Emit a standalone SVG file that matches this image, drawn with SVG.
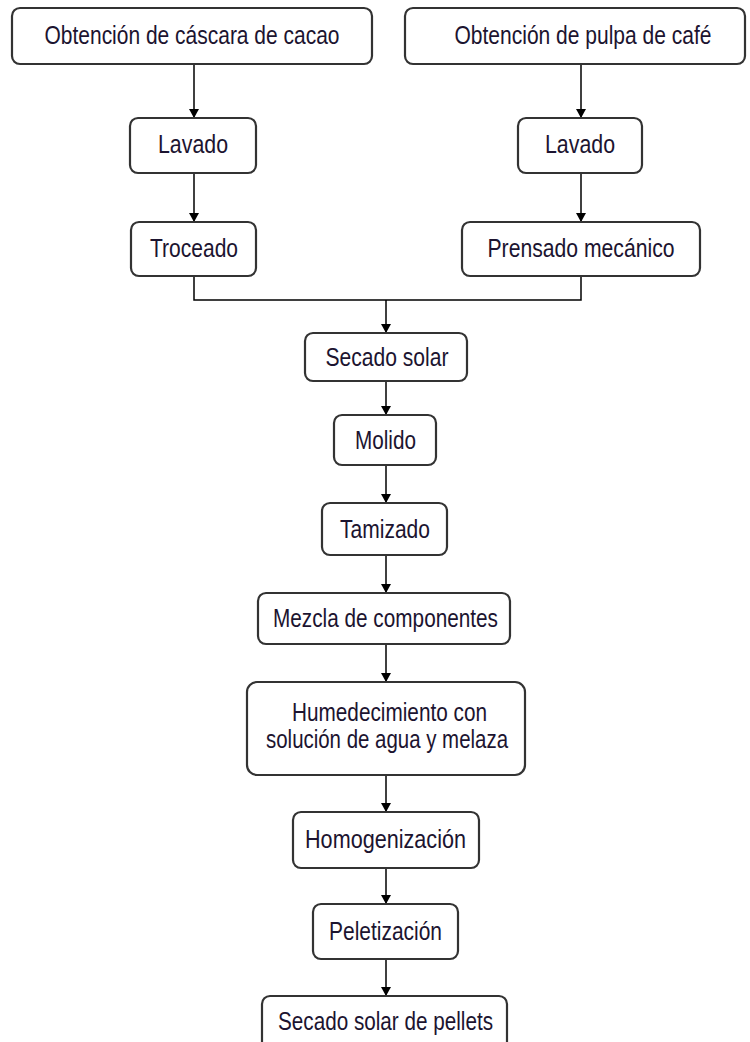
<svg xmlns="http://www.w3.org/2000/svg" width="750" height="1042" viewBox="0 0 750 1042">
<defs>
<style>
.box{fill:#ffffff;stroke:#333333;stroke-width:2.2}
.t{font-family:"Liberation Sans",Arial,sans-serif;font-size:25px;fill:#1c1430;text-anchor:middle}
.c{fill:none;stroke:#000;stroke-width:1.5}
</style>
<marker id="arr" markerUnits="userSpaceOnUse" markerWidth="9" markerHeight="10" refX="9" refY="5" orient="auto" viewBox="0 0 9 10">
<path d="M0,0 L9,5 L0,10 z" fill="#000"/>
</marker>
</defs>
<rect width="750" height="1042" fill="#ffffff"/>
<g id="connectors">
<line class="c" x1="194" y1="64" x2="194" y2="118" marker-end="url(#arr)"/>
<line class="c" x1="581" y1="64" x2="581" y2="118" marker-end="url(#arr)"/>
<line class="c" x1="194" y1="173" x2="194" y2="222" marker-end="url(#arr)"/>
<line class="c" x1="581" y1="173" x2="581" y2="222" marker-end="url(#arr)"/>
<polyline class="c" points="194,276 194,300 581,300 581,276"/>
<line class="c" x1="386" y1="300" x2="386" y2="333" marker-end="url(#arr)"/>
<line class="c" x1="386" y1="381" x2="386" y2="415" marker-end="url(#arr)"/>
<line class="c" x1="386" y1="465" x2="386" y2="503" marker-end="url(#arr)"/>
<line class="c" x1="386" y1="555" x2="386" y2="593" marker-end="url(#arr)"/>
<line class="c" x1="386" y1="644" x2="386" y2="682" marker-end="url(#arr)"/>
<line class="c" x1="386" y1="775" x2="386" y2="812" marker-end="url(#arr)"/>
<line class="c" x1="386" y1="868" x2="386" y2="904" marker-end="url(#arr)"/>
<line class="c" x1="386" y1="959" x2="386" y2="996" marker-end="url(#arr)"/>
</g>
<g id="n_cacao"><rect class="box" x="12" y="8" width="360" height="56" rx="8"/><text class="t" x="192" y="44" textLength="295" lengthAdjust="spacingAndGlyphs">Obtención de cáscara de cacao</text></g>
<g id="n_cafe"><rect class="box" x="405" y="8" width="340" height="56" rx="8"/><text class="t" x="583" y="44" textLength="257" lengthAdjust="spacingAndGlyphs">Obtención de pulpa de café</text></g>
<g id="n_lavado1"><rect class="box" x="130" y="118" width="126" height="55" rx="8"/><text class="t" x="193" y="153" textLength="70" lengthAdjust="spacingAndGlyphs">Lavado</text></g>
<g id="n_lavado2"><rect class="box" x="518" y="118" width="124" height="55" rx="8"/><text class="t" x="580" y="153" textLength="70" lengthAdjust="spacingAndGlyphs">Lavado</text></g>
<g id="n_troceado"><rect class="box" x="131" y="222" width="125" height="54" rx="8"/><text class="t" x="194" y="257" textLength="88" lengthAdjust="spacingAndGlyphs">Troceado</text></g>
<g id="n_prensado"><rect class="box" x="462" y="222" width="238" height="54" rx="8"/><text class="t" x="581" y="257" textLength="187" lengthAdjust="spacingAndGlyphs">Prensado mecánico</text></g>
<g id="n_secado"><rect class="box" x="305" y="333" width="162" height="48" rx="8"/><text class="t" x="387" y="366" textLength="123" lengthAdjust="spacingAndGlyphs">Secado solar</text></g>
<g id="n_molido"><rect class="box" x="334" y="415" width="102" height="50" rx="8"/><text class="t" x="385.5" y="449" textLength="61" lengthAdjust="spacingAndGlyphs">Molido</text></g>
<g id="n_tamizado"><rect class="box" x="322" y="503" width="125" height="52" rx="8"/><text class="t" x="385" y="538" textLength="90" lengthAdjust="spacingAndGlyphs">Tamizado</text></g>
<g id="n_mezcla"><rect class="box" x="258" y="593" width="252" height="51" rx="8"/><text class="t" x="385.5" y="627" textLength="225" lengthAdjust="spacingAndGlyphs">Mezcla de componentes</text></g>
<g id="n_humedecimiento"><rect class="box" x="247" y="682" width="278" height="93" rx="10"/><text class="t" x="389.5" y="721" textLength="195" lengthAdjust="spacingAndGlyphs">Humedecimiento con</text><text class="t" x="387" y="748" textLength="242" lengthAdjust="spacingAndGlyphs">solución de agua y melaza</text></g>
<g id="n_homogenizacion"><rect class="box" x="293" y="812" width="186" height="56" rx="8"/><text class="t" x="385.5" y="848" textLength="161" lengthAdjust="spacingAndGlyphs">Homogenización</text></g>
<g id="n_peletizacion"><rect class="box" x="313" y="904" width="145" height="55" rx="8"/><text class="t" x="385.5" y="940" textLength="113" lengthAdjust="spacingAndGlyphs">Peletización</text></g>
<g id="n_secado_pellets"><rect class="box" x="262" y="996" width="245" height="60" rx="8"/><text class="t" x="385.5" y="1030" textLength="215" lengthAdjust="spacingAndGlyphs">Secado solar de pellets</text></g>
</svg>
